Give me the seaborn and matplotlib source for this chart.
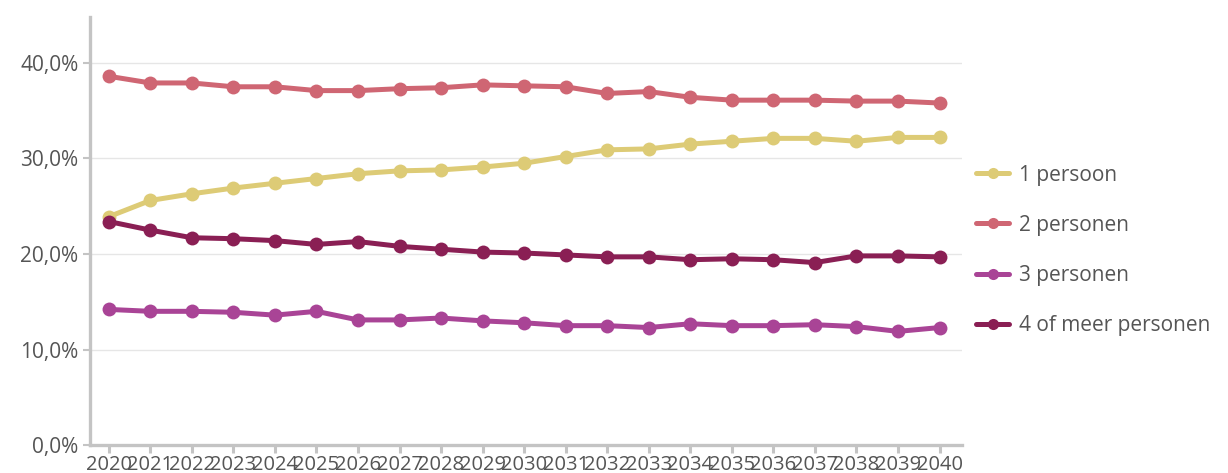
import pandas as pd
import numpy as np
import seaborn as sns
import matplotlib.pyplot as plt
from matplotlib.ticker import FuncFormatter

# data (share of households, %)
years = list(range(2020, 2041))
series_names = ["1 persoon", "2 personen", "3 personen", "4 of meer personen"]
een_persoon = [23.9, 25.6, 26.3, 26.9, 27.4, 27.9, 28.4, 28.7, 28.8, 29.1, 29.5,
               30.2, 30.9, 31.0, 31.5, 31.8, 32.1, 32.1, 31.8, 32.2, 32.2]
twee_personen = [38.6, 37.9, 37.9, 37.5, 37.5, 37.1, 37.1, 37.3, 37.4, 37.7, 37.6,
                 37.5, 36.8, 37.0, 36.4, 36.1, 36.1, 36.1, 36.0, 36.0, 35.8]
drie_personen = [14.2, 14.0, 14.0, 13.9, 13.6, 14.0, 13.1, 13.1, 13.3, 13.0, 12.8,
                 12.5, 12.5, 12.3, 12.7, 12.5, 12.5, 12.6, 12.4, 11.9, 12.3]
vier_of_meer = [23.4, 22.5, 21.7, 21.6, 21.4, 21.0, 21.3, 20.8, 20.5, 20.2, 20.1,
                19.9, 19.7, 19.7, 19.4, 19.5, 19.4, 19.1, 19.8, 19.8, 19.7]
colors = ["#DDCB76", "#CF6673", "#A94496", "#8A1F54"]

df = pd.DataFrame({"jaar": years, series_names[0]: een_persoon,
                   series_names[1]: twee_personen, series_names[2]: drie_personen,
                   series_names[3]: vier_of_meer})
long_df = df.melt(id_vars="jaar", var_name="huishouden", value_name="aandeel")

sns.set_style("white")
plt.rcParams['font.family'] = ['Open Sans', 'DejaVu Sans']

fig = plt.figure(figsize=(12.28, 4.73), dpi=100)
ax = fig.add_axes([0.073, 0.059, 0.71, 0.905])

sns.lineplot(data=long_df, x="jaar", y="aandeel", hue="huishouden",
             hue_order=series_names, palette=colors, marker="o",
             linewidth=3.6, markersize=10, markeredgewidth=0, ax=ax)

ax.set_xlim(2019.54, 2040.53)
ax.set_ylim(0, 44.8)
ax.set_xticks(years)
ax.set_yticks([0, 10, 20, 30, 40])
ax.yaxis.set_major_formatter(FuncFormatter(lambda v, p: f"{v:.1f}".replace(".", ",") + "%"))
ax.set_xlabel("")
ax.set_ylabel("")

for y in [10, 20, 30, 40]:
    ax.axhline(y, color="#e6e6e6", linewidth=1, zorder=0)

for s in ["top", "right"]:
    ax.spines[s].set_visible(False)
for s in ["left", "bottom"]:
    ax.spines[s].set_color("#c4c4c4")
    ax.spines[s].set_linewidth(2.4)

ax.tick_params(axis="x", colors="#c4c4c4", length=6, width=2.2, labelcolor="#555555",
               labelsize=14.5, pad=1, bottom=True)
ax.tick_params(axis="y", colors="#c4c4c4", length=5, width=1.5, labelcolor="#555555",
               labelsize=15, pad=3, left=True)

handles, labels = ax.get_legend_handles_labels()
for h in handles:
    h.set_markersize(8)
ax.legend(handles, labels, loc="center left", bbox_to_anchor=(0.995, 0.455),
          frameon=False, fontsize=15, labelcolor="#555555", handlelength=1.6,
          labelspacing=1.4, handletextpad=0.45)

fig.savefig("out.png", dpi=100)
